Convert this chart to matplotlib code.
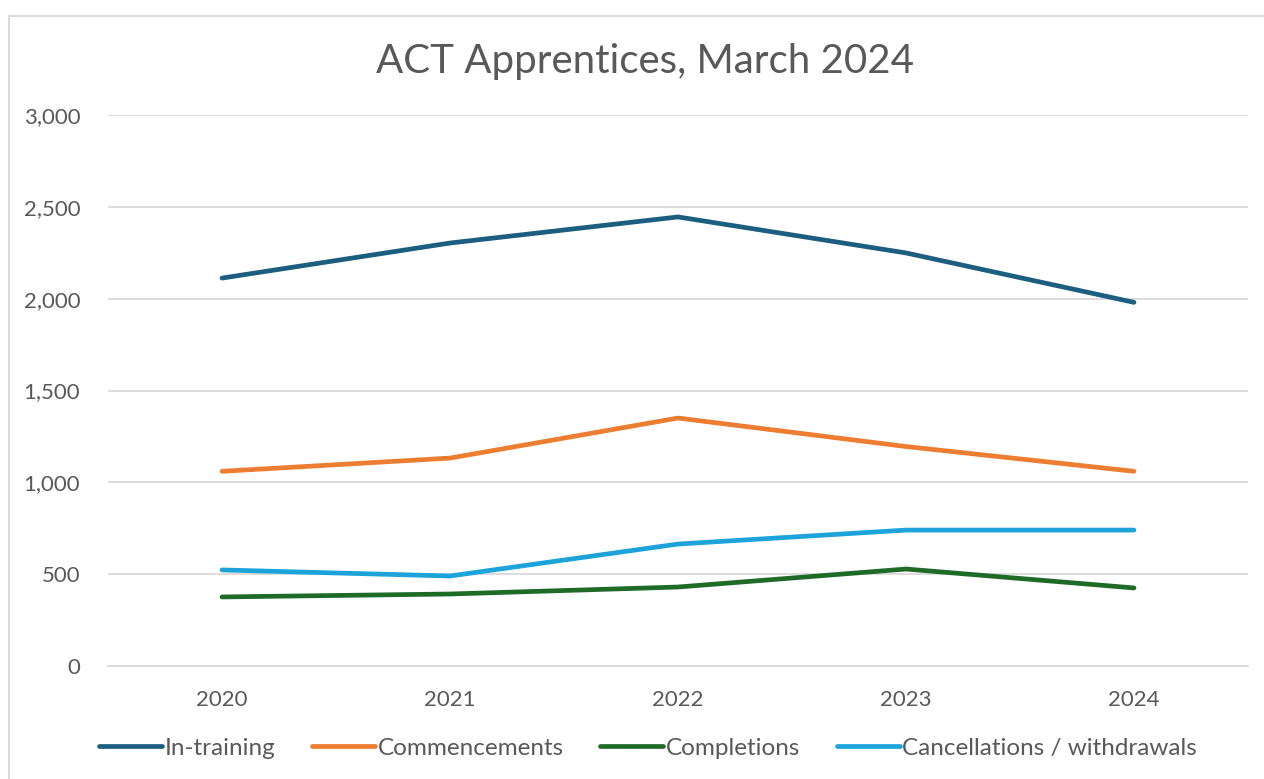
#!/usr/bin/env python
"""ACT apprentices line chart, March 2024"""
import matplotlib
matplotlib.use("Agg")
from matplotlib import pyplot as plt
from matplotlib.lines import Line2D
from matplotlib.ticker import FuncFormatter

years = ["2020", "2021", "2022", "2023", "2024"]
in_training = [2112, 2303, 2445, 2249, 1980]
commencements = [1060, 1132, 1350, 1195, 1060]
completions = [376, 392, 430, 528, 425]
cancellations = [523, 490, 664, 740, 740]

series = [
    ("In-training", in_training, "#1b5e80"),
    ("Commencements", commencements, "#ed7d31"),
    ("Completions", completions, "#1e6b28"),
    ("Cancellations / withdrawals", cancellations, "#1ca3da"),
]

plt.rcParams['font.family'] = ['Lato', 'DejaVu Sans']
grey = "#595959"

fig = plt.figure(figsize=(12.64, 7.79), dpi=100)
ax = fig.add_axes([108 / 1264, 1 - 666 / 779, 1140 / 1264, 551 / 779])

xs = range(len(years))
for name, vals, col in series:
    ax.plot(xs, vals, color=col, lw=3.4, label=name, solid_capstyle='round')

ax.set_xlim(-0.5, len(years) - 0.5)
ax.set_ylim(0, 3000)
ax.set_yticks(range(0, 3001, 500))
ax.yaxis.set_major_formatter(FuncFormatter(lambda v, p: f"{int(v):,}"))
ax.set_xticks(list(xs))
ax.set_xticklabels(years)
ax.grid(axis='y', color="#d9d9d9", lw=1.3)
ax.set_axisbelow(True)
for s in ['top', 'right', 'left']:
    ax.spines[s].set_visible(False)
ax.spines['bottom'].set_color("#d9d9d9")
ax.spines['bottom'].set_linewidth(1.3)
ax.tick_params(length=0, labelsize=16, colors=grey)
ax.tick_params(axis='x', pad=17)
ax.tick_params(axis='y', pad=20)

fig.text(645 / 1264, 1 - 62 / 779, "ACT Apprentices, March 2024", ha='center',
         va='center', fontsize=29, color=grey)

fig.legend(loc='center', bbox_to_anchor=(648 / 1264, 1 - 748 / 779), ncol=4,
           frameon=False, fontsize=17.5, labelcolor=grey, handlelength=2.6,
           handletextpad=0.1, columnspacing=1.5)

# outer chart border
fig.add_artist(Line2D([9 / 1264, 9 / 1264], [0, 1 - 16 / 779], color="#d9d9d9", lw=1.5))
fig.add_artist(Line2D([9 / 1264, 1], [1 - 16 / 779, 1 - 16 / 779], color="#d9d9d9", lw=1.5))

fig.savefig("out.png", dpi=100)
